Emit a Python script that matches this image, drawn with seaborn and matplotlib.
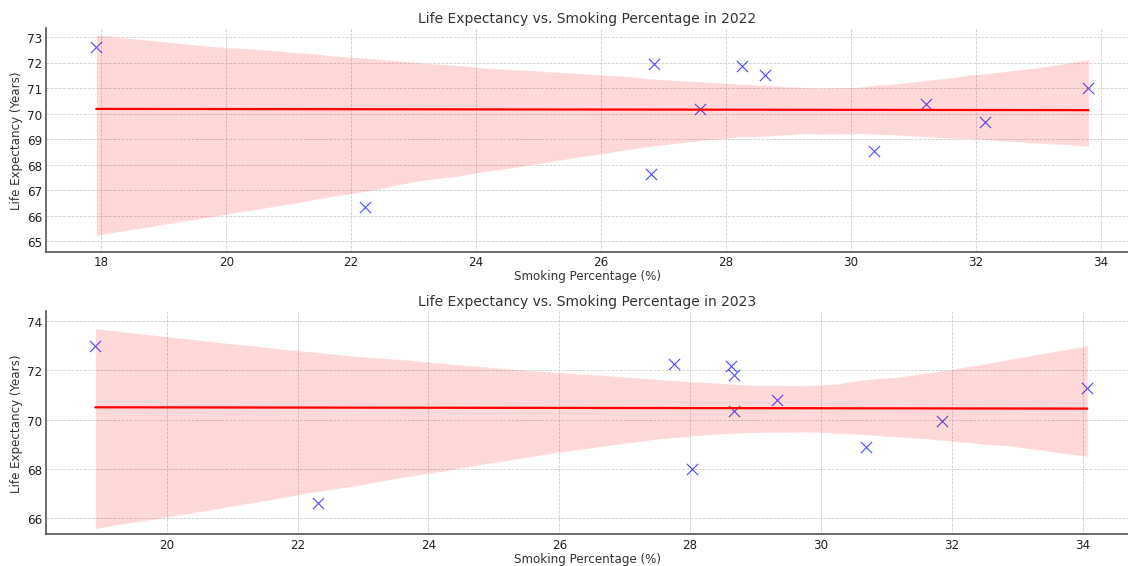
import matplotlib
matplotlib.use("Agg")
import matplotlib.pyplot as plt
import pandas as pd
import seaborn as sns

# values
smoking_2022 = [17.92, 22.22, 26.85, 26.80, 27.58, 28.26, 28.62, 30.37, 31.20, 32.15, 33.80]
life_exp_2022 = [72.61, 66.34, 71.95, 67.62, 70.19, 71.88, 71.52, 68.52, 70.38, 69.69, 71.00]

smoking_2023 = [18.91, 22.31, 27.76, 28.03, 28.62, 28.67, 28.67, 29.33, 30.69, 31.85, 34.07]
life_exp_2023 = [73.01, 66.62, 72.26, 67.98, 72.18, 71.81, 70.36, 70.81, 68.89, 69.95, 71.29]

years = ["2022", "2023"]

sns.set_style("white")
plt.rcParams.update({
    "font.family": ["DejaVu Sans"],
    "text.color": "#333333",
    "axes.labelcolor": "#333333",
    "axes.edgecolor": "#555555",
    "axes.linewidth": 1.5,
    "xtick.color": "#555555",
    "ytick.color": "#555555",
    "xtick.labelcolor": "#222222",
    "ytick.labelcolor": "#222222",
    "xtick.direction": "in",
    "ytick.direction": "in",
    "xtick.major.size": 3,
    "ytick.major.size": 3,
    "xtick.labelsize": 10.6,
    "ytick.labelsize": 10.6,
    "axes.labelsize": 10.6,
    "axes.titlesize": 12.4,
})

frames = [
    pd.DataFrame({"smoking": smoking_2022, "life": life_exp_2022}),
    pd.DataFrame({"smoking": smoking_2023, "life": life_exp_2023}),
]
xlims = [(17.12, 34.43), (18.16, 34.69)]
ylims = [(64.6, 73.35), (65.34, 74.43)]

fig, axes = plt.subplots(2, 1, figsize=(14, 7.03), dpi=80.64)
fig.subplots_adjust(left=0.041, right=0.999, top=0.949, bottom=0.056, hspace=0.264)

for ax, df, year, xl, yl in zip(axes, frames, years, xlims, ylims):
    sns.regplot(
        data=df,
        x="smoking",
        y="life",
        ax=ax,
        marker="x",
        seed=3,
        scatter_kws={"color": "blue", "alpha": 0.7, "s": 100, "linewidths": 1},
        line_kws={"color": "red", "lw": 2},
    )
    ax.set_title(f"Life Expectancy vs. Smoking Percentage in {year}", pad=5)
    ax.set_xlabel("Smoking Percentage (%)", labelpad=1)
    ax.set_ylabel("Life Expectancy (Years)")
    ax.tick_params(axis="x", pad=3)
    ax.set_xlim(*xl)
    ax.set_ylim(*yl)
    ax.grid(True, linestyle="--", color="#cccccc", linewidth=0.7)
    sns.despine(ax=ax)

fig.savefig("out.png", dpi=80.64)
